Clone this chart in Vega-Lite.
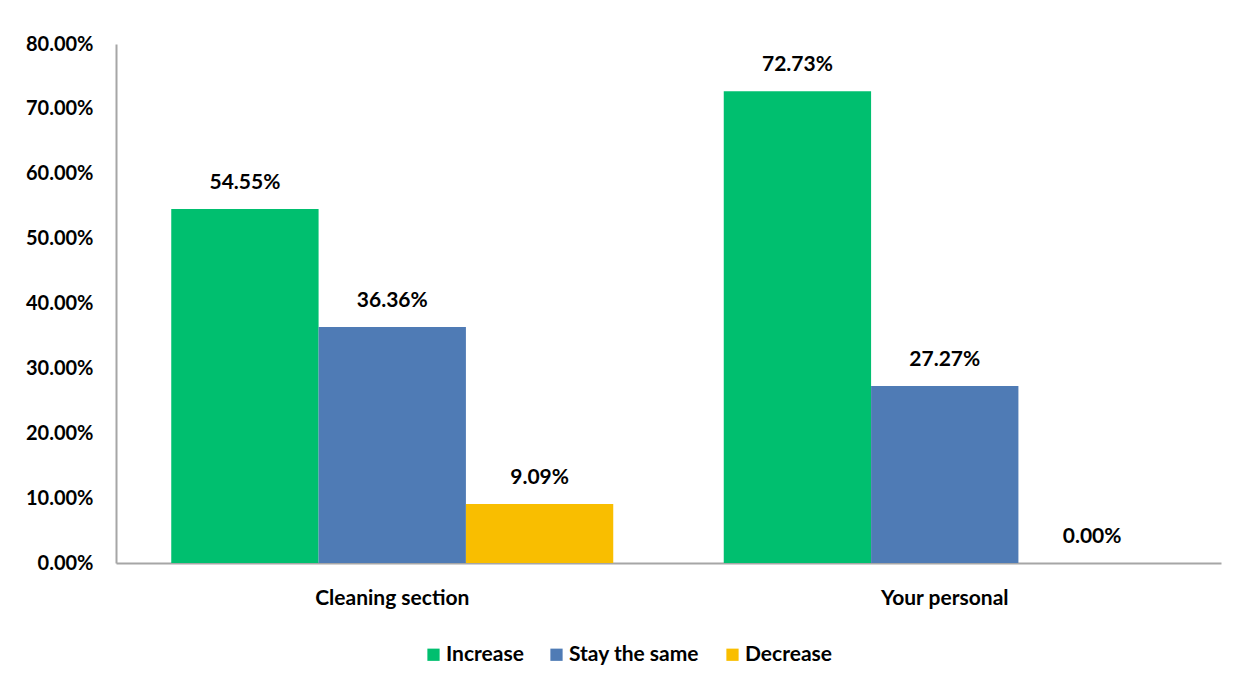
{
  "$schema": "https://vega.github.io/schema/vega-lite/v6.json",
  "autosize": {"type": "none"},
  "width": 1105,
  "height": 519,
  "padding": {"left": 116, "top": 44, "right": 12, "bottom": 124},
  "background": "white",
  "config": {
    "view": {"stroke": null},
    "font": "Lato",
    "axis": {"labelFont": "Lato", "labelFontWeight": "bold", "labelFontSize": 20, "labelColor": "#000000"}
  },
  "data": {
    "values": [
      {"category": "Cleaning section", "response": "Increase", "value": 0.5455},
      {"category": "Cleaning section", "response": "Stay the same", "value": 0.3636},
      {"category": "Cleaning section", "response": "Decrease", "value": 0.0909},
      {"category": "Your personal", "response": "Increase", "value": 0.7273},
      {"category": "Your personal", "response": "Stay the same", "value": 0.2727},
      {"category": "Your personal", "response": "Decrease", "value": 0.0}
    ]
  },
  "encoding": {
    "x": {
      "field": "category", "type": "nominal", "sort": null,
      "scale": {"paddingInner": 0.2, "paddingOuter": 0.1},
      "axis": {"title": null, "labelAngle": 0, "ticks": false, "domainColor": "#a6a6a6", "domainWidth": 2, "labelPadding": 24, "labelFontSize": 21}
    },
    "xOffset": {"field": "response", "type": "nominal", "sort": ["Increase", "Stay the same", "Decrease"], "scale": {"paddingInner": 0, "paddingOuter": 0}},
    "y": {
      "field": "value", "type": "quantitative",
      "scale": {"domain": [0, 0.8]},
      "axis": {"title": null, "format": ".2%", "values": [0, 0.1, 0.2, 0.3, 0.4, 0.5, 0.6, 0.7, 0.8], "grid": false, "ticks": false, "domainColor": "#a6a6a6", "domainWidth": 2, "labelPadding": 23}
    }
  },
  "layer": [
    {
      "mark": {"type": "bar"},
      "encoding": {
        "color": {
          "field": "response", "type": "nominal",
          "sort": ["Increase", "Stay the same", "Decrease"],
          "scale": {"domain": ["Increase", "Stay the same", "Decrease"], "range": ["#00BF6F", "#4F7BB5", "#F9BE00"]},
          "legend": {
            "title": null, "orient": "none", "direction": "horizontal",
            "legendX": 307, "legendY": 600,
            "symbolType": "square", "symbolSize": 150, "symbolStrokeWidth": 0,
            "labelFont": "Lato", "labelFontWeight": "bold", "labelFontSize": 21, "labelColor": "#000000",
            "columnPadding": 22, "labelOffset": 2
          }
        }
      }
    },
    {
      "mark": {"type": "text", "dy": -26, "font": "Lato", "fontWeight": "bold", "fontSize": 21, "color": "#000000"},
      "encoding": {
        "text": {"field": "value", "type": "quantitative", "format": ".2%"}
      }
    }
  ]
}
